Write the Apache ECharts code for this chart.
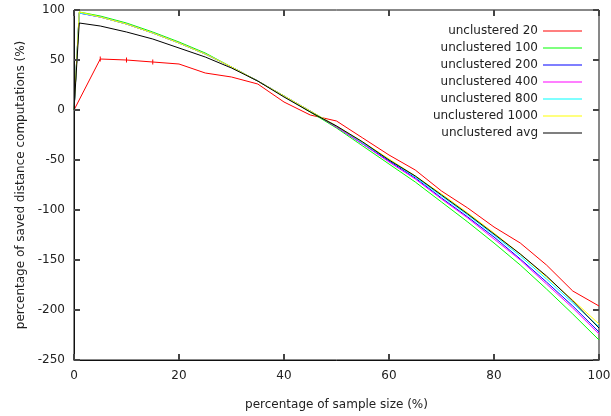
<!DOCTYPE html>
<html>
<head>
<meta charset="utf-8">
<script src="https://cdn.jsdelivr.net/npm/echarts@6/dist/echarts.min.js"></script>
<style>html,body{margin:0;padding:0;background:#fff;}#c{width:611px;height:416px;}</style>
</head>
<body>
<div id="c"></div>
<script>
// ---- data ----
const xTicks = [0, 20, 40, 60, 80, 100];
const yTicks = [-250, -200, -150, -100, -50, 0, 50, 100];

const xMain = [0, 1, 5, 10, 15, 20, 25, 30, 35, 40, 45, 50, 55, 60, 65, 70, 75, 80, 85, 90, 95, 100];
const xRed  = [0, 5, 10, 15, 20, 25, 30, 35, 40, 45, 50, 55, 60, 65, 70, 75, 80, 85, 90, 95, 100];

const unclustered20   = [0, 51, 50, 48, 46, 37, 33, 26, 8, -5, -11, -28, -45, -60, -81, -98, -117, -133, -155, -181, -196];
const unclustered100  = [0, 98, 94, 87, 78, 68, 57, 43, 29, 14, -2, -18, -36, -54, -72, -92, -112, -133, -155, -179, -204, -230];
const unclustered200  = [0, 97, 93, 86, 77, 67, 56, 43, 29, 14, -1, -17, -34, -51, -68, -88, -107, -127, -149, -172, -196, -222];
const unclustered400  = [0, 97, 93, 86, 77, 67, 56, 43, 29, 14, -1, -17, -34, -52, -69, -89, -108, -129, -150, -174, -198, -224];
const unclustered800  = [0, 97, 93, 86, 77, 67, 56, 43, 29, 14, -1, -16, -33, -50, -67, -86, -105, -125, -146, -169, -193, -217];
const unclustered1000 = [0, 98, 93, 86, 77, 67, 56, 43, 29, 14, -1, -16, -32, -49, -66, -84, -103, -123, -144, -167, -190, -214];
const unclusteredAvg  = [0, 87, 84, 78, 71, 62, 53, 42, 29, 13, -2, -16, -32, -50, -66, -85, -104, -124, -144, -166, -191, -218];
const redErrorX = [5, 10, 15];

const names = ['unclustered 20', 'unclustered 100', 'unclustered 200', 'unclustered 400', 'unclustered 800', 'unclustered 1000', 'unclustered avg'];
const colors = ['#ff0000', '#00ff00', '#0000ff', '#ff00ff', '#00ffff', '#ffff00', '#000000'];

// ---- build ----
function pairs(xs, ys) { return xs.map((x, i) => [x, ys[i]]); }
const redData = xRed.map((x, i) => redErrorX.indexOf(x) >= 0
  ? { value: [x, unclustered20[i]], symbol: 'rect', symbolSize: [1, 5] }
  : { value: [x, unclustered20[i]], symbol: 'none' });

const seriesData = [
  redData,
  pairs(xMain, unclustered100),
  pairs(xMain, unclustered200),
  pairs(xMain, unclustered400),
  pairs(xMain, unclustered800),
  pairs(xMain, unclustered1000),
  pairs(xMain, unclusteredAvg)
];

const txt = '#222';
const font = 'DejaVu Sans';
function axisBase(lineShow) {
  return {
    type: 'value',
    z: 10,
    axisLine: { show: lineShow, onZero: false, lineStyle: { color: '#111', width: 1 } },
    axisTick: { show: true, inside: true, length: 6, lineStyle: { color: '#444', width: 2 } },
    splitLine: { show: false }
  };
}

const chart = echarts.init(document.getElementById('c'), null, { renderer: 'canvas' });
chart.setOption({
  animation: false,
  backgroundColor: '#fff',
  grid: { left: 74, right: 12, top: 10, bottom: 56, containLabel: false, outerBoundsMode: 'none',
          show: true, borderColor: '#111', borderWidth: 1, backgroundColor: 'transparent' },
  legend: {
    orient: 'vertical',
    right: 24,
    top: 19,
    align: 'right',
    icon: 'rect',
    itemWidth: 39,
    itemHeight: 1,
    itemGap: 3,
    textStyle: { fontFamily: font, fontSize: 12, color: txt, lineHeight: 14 },
    data: names
  },
  xAxis: [
    Object.assign(axisBase(true), {
      position: 'bottom', min: xTicks[0], max: xTicks[xTicks.length - 1], interval: 20,
      axisLabel: { fontFamily: font, fontSize: 12, color: txt, margin: 10 },
      name: 'percentage of sample size (%)', nameLocation: 'middle', nameGap: 39,
      nameTextStyle: { fontFamily: font, fontSize: 12, color: txt }
    }),
    Object.assign(axisBase(false), {
      position: 'top', min: xTicks[0], max: xTicks[xTicks.length - 1], interval: 20,
      axisLabel: { show: false }
    })
  ],
  yAxis: [
    Object.assign(axisBase(true), {
      position: 'left', min: yTicks[0], max: yTicks[yTicks.length - 1], interval: 50,
      axisLabel: { fontFamily: font, fontSize: 12, color: txt, margin: 9 },
      name: 'percentage of saved distance computations (%)', nameLocation: 'middle', nameGap: 47,
      nameTextStyle: { fontFamily: font, fontSize: 12, color: txt }
    }),
    Object.assign(axisBase(false), {
      position: 'right', min: yTicks[0], max: yTicks[yTicks.length - 1], interval: 50,
      axisLabel: { show: false }
    })
  ],
  series: names.map((n, i) => ({
    name: n,
    type: 'line',
    xAxisIndex: 0,
    yAxisIndex: 0,
    data: seriesData[i],
    symbol: 'none',
    showSymbol: i === 0,
    color: colors[i],
    lineStyle: { color: colors[i], width: 1 },
    itemStyle: { color: colors[i] },
    emphasis: { disabled: true },
    silent: true
  }))
});
</script>
</body>
</html>
